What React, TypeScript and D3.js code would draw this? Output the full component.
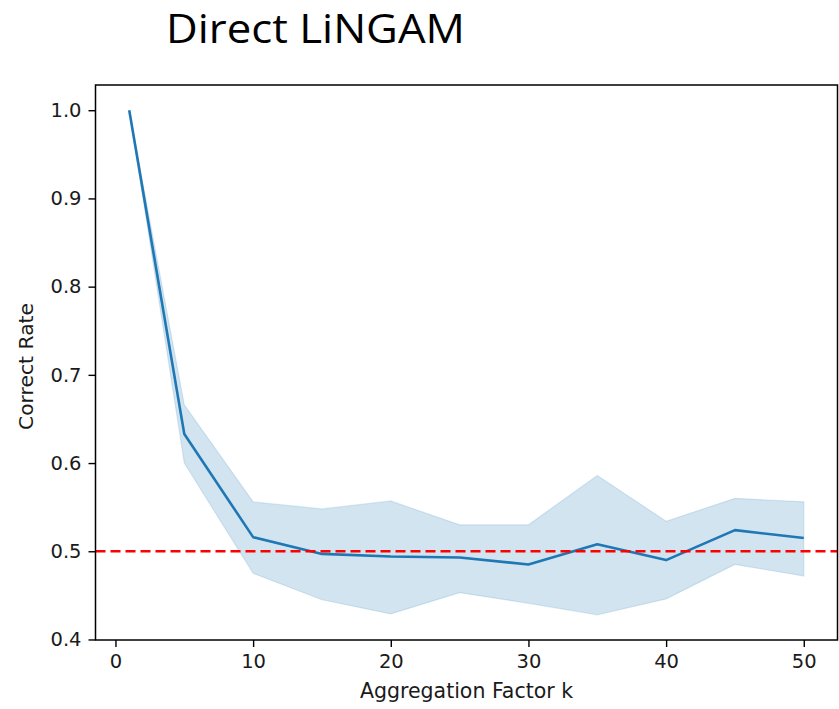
import React, { useEffect, useRef } from 'react'
import * as d3 from 'd3'

// aggregation factor k and the mean correct rate with its confidence band
const kValues = [1, 5, 10, 15, 20, 25, 30, 35, 40, 45, 50]
const meanRate = [1.0, 0.633, 0.516, 0.497, 0.494, 0.493, 0.485, 0.508, 0.49, 0.524, 0.515]
const upperRate = [1.0, 0.666, 0.556, 0.548, 0.557, 0.53, 0.53, 0.586, 0.534, 0.56, 0.556]
const lowerRate = [1.0, 0.6, 0.475, 0.445, 0.429, 0.453, 0.441, 0.428, 0.446, 0.485, 0.472]
const xTicks = [0, 10, 20, 30, 40, 50]
const yTicks = [0.4, 0.5, 0.6, 0.7, 0.8, 0.9, 1.0]
const baseline = 0.5

const W = 839
const H = 709
const margin = { top: 85, right: 1.5, bottom: 69, left: 95.5 }
const FONT = 'DejaVu Sans, sans-serif'
const BLUE = '#1f77b4'

export default function App () {
  const ref = useRef<SVGSVGElement>(null)

  useEffect(() => {
    const svg = d3.select(ref.current)
    svg.selectAll('*').remove()

    const x0 = margin.left
    const x1 = W - margin.right
    const y0 = margin.top
    const y1 = H - margin.bottom

    // matplotlib style 5% padding around the data
    const xPad = (d3.max(kValues)! - d3.min(kValues)!) * 0.05
    const x = d3.scaleLinear()
      .domain([d3.min(kValues)! - xPad, d3.max(kValues)! + xPad])
      .range([x0, x1])
    const yLo = d3.min(lowerRate)!
    const yHi = d3.max(upperRate)!
    const yPad = (yHi - yLo) * 0.05
    const y = d3.scaleLinear()
      .domain([yLo - yPad, yHi + yPad])
      .range([y1, y0])

    const data = kValues.map((k, i) => ({ k, m: meanRate[i], lo: lowerRate[i], hi: upperRate[i] }))

    const g = svg.append('g')

    g.append('path')
      .datum(data)
      .attr('d', d3.area<any>().x(d => x(d.k)).y0(d => y(d.lo)).y1(d => y(d.hi)))
      .attr('fill', BLUE)
      .attr('fill-opacity', 0.2)
      .attr('stroke', BLUE)
      .attr('stroke-opacity', 0.15)
      .attr('stroke-width', 1.2)

    g.append('path')
      .datum(data)
      .attr('d', d3.line<any>().x(d => x(d.k)).y(d => y(d.m)))
      .attr('fill', 'none')
      .attr('stroke', BLUE)
      .attr('stroke-width', 2.6)
      .attr('stroke-linejoin', 'round')

    g.append('line')
      .attr('x1', x0).attr('x2', x1)
      .attr('y1', y(baseline)).attr('y2', y(baseline))
      .attr('stroke', '#ff0000')
      .attr('stroke-width', 2.6)
      .attr('stroke-dasharray', '10,5')

    // axes frame
    g.append('rect')
      .attr('x', x0).attr('y', y0)
      .attr('width', x1 - x0).attr('height', y1 - y0)
      .attr('fill', 'none')
      .attr('stroke', '#000')
      .attr('stroke-width', 1.5)

    const xAxis = g.append('g')
      .attr('transform', `translate(0,${y1})`)
      .call(d3.axisBottom(x).tickValues(xTicks).tickFormat(d3.format('d')).tickSize(7).tickPadding(7))
    const yAxis = g.append('g')
      .attr('transform', `translate(${x0},0)`)
      .call(d3.axisLeft(y).tickValues(yTicks).tickFormat(d3.format('.1f')).tickSize(7).tickPadding(7))

    for (const ax of [xAxis, yAxis]) {
      ax.select('.domain').remove()
      ax.selectAll('line').attr('stroke', '#000').attr('stroke-width', 1.4)
      ax.selectAll('text').attr('font-family', FONT).attr('font-size', 19.5).attr('fill', '#1a1a1a')
    }

    g.append('text')
      .attr('x', (x0 + x1) / 2)
      .attr('y', 698)
      .attr('text-anchor', 'middle')
      .attr('font-family', FONT)
      .attr('font-size', 20.5)
      .attr('fill', '#1a1a1a')
      .text('Aggregation Factor k')

    g.append('text')
      .attr('transform', `translate(33,${(y0 + y1) / 2 + 4}) rotate(-90)`)
      .attr('text-anchor', 'middle')
      .attr('font-family', FONT)
      .attr('font-size', 20.3)
      .attr('fill', '#1a1a1a')
      .text('Correct Rate')

    g.append('text')
      .attr('x', 166)
      .attr('y', 43)
      .attr('font-family', 'Open Sans, sans-serif')
      .attr('font-size', 41)
      .attr('textLength', 299)
      .attr('lengthAdjust', 'spacingAndGlyphs')
      .attr('fill', '#000')
      .text('Direct LiNGAM')
  }, [])

  return (
    <svg
      ref={ref}
      width={W}
      height={H}
      viewBox={`0 0 ${W} ${H}`}
      style={{ position: 'absolute', left: 0, top: 0, background: '#fff' }}
    />
  )
}
